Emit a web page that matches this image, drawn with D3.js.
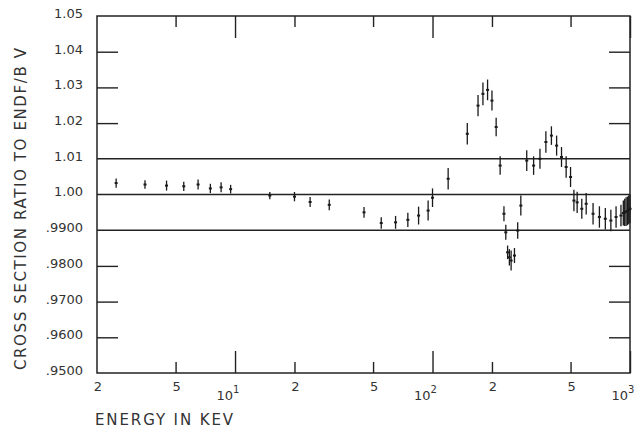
<html>
<head>
<script src="https://d3js.org/d3.v7.min.js"></script>
<style>
    body { margin: 0; background: #fff; }
    text { font-family: 'DejaVu Sans', sans-serif; fill: #333; }
    .frame { fill: none; stroke: #222; stroke-width: 1.5px; }
    .ref { stroke: #222; stroke-width: 1.6px; }
    .bar { stroke: #1a1a1a; stroke-width: 1.3px; }
    .dot { stroke: #1a1a1a; stroke-width: 2px; }
    .axis line { stroke: #222; stroke-width: 1.4px; }
    .axis path { display: none; }
</style>
</head>
<body>
<svg id="chart" width="642" height="432"></svg>
<script>
    // energy (keV), ratio to ENDF/B-V, half length of the error bar
    const energy = [2.5, 3.5, 4.5, 5.5, 6.5, 7.5, 8.5, 9.5, 15, 20, 24, 30, 45, 55, 65, 75, 85, 95, 100,
        120, 150, 170, 180, 190, 200, 210, 220, 230, 235, 240, 245, 250, 260, 270, 280,
        300, 325, 350, 375, 400, 425, 450, 475, 500, 520, 540, 570, 600, 650, 700, 750, 800, 850, 900,
        925, 940, 955, 970, 985, 1000];
    const ratio = [1.0032, 1.0028, 1.0025, 1.0023, 1.0028, 1.0017, 1.0020, 1.0015, 0.9997, 0.9994, 0.9979, 0.9971, 0.9950, 0.9920, 0.9922, 0.9929, 0.9941, 0.9955, 0.9991,
        1.0044, 1.0170, 1.0249, 1.0282, 1.0293, 1.0263, 1.0189, 1.0081, 0.9946, 0.9894, 0.9838, 0.9824, 0.9815, 0.9829, 0.9899, 0.9969,
        1.0095, 1.0081, 1.0100, 1.0147, 1.0165, 1.0137, 1.0105, 1.0077, 1.0049, 0.9983, 0.9978, 0.9960, 0.9974, 0.9946, 0.9937, 0.9932, 0.9927, 0.9937, 0.9941,
        0.9948, 0.9950, 0.9952, 0.9954, 0.9957, 0.9960];
    const err = [0.0013, 0.0012, 0.0014, 0.0013, 0.0014, 0.0013, 0.0014, 0.0012, 0.0010, 0.0013, 0.0014, 0.0015, 0.0015, 0.0016, 0.0018, 0.0020, 0.0025, 0.0028, 0.0026,
        0.0030, 0.0030, 0.0030, 0.0032, 0.0029, 0.0028, 0.0026, 0.0026, 0.0021, 0.0021, 0.0019, 0.0023, 0.0028, 0.0021, 0.0023, 0.0028,
        0.0029, 0.0026, 0.0028, 0.0030, 0.0026, 0.0028, 0.0028, 0.0030, 0.0028, 0.0030, 0.0030, 0.0028, 0.0030, 0.0030, 0.0030, 0.0030, 0.0030, 0.0030, 0.0030,
        0.0035, 0.0038, 0.0040, 0.0040, 0.0040, 0.0040];

    const yTicks = [1.05, 1.04, 1.03, 1.02, 1.01, 1.00, 0.99, 0.98, 0.97, 0.96, 0.95];
    const yLabels = ['1.05', '1.04', '1.03', '1.02', '1.01', '1.00', '.9900', '.9800', '.9700', '.9600', '.9500'];
    const refLines = [1.01, 1.00, 0.99];
    const xMinor = [5, 20, 50, 200, 500];
    const xMajor = [10, 100, 1000];
    const xMinorLabels = [[2, '2'], [5, '5'], [20, '2'], [50, '5'], [200, '2'], [500, '5']];
    const xMajorLabels = [[10, '1'], [100, '2'], [1000, '3']];

    const svg = d3.select('#chart');
    const x = d3.scaleLog().domain([2, 1000]).range([97, 630]);
    const y = d3.scaleLinear().domain([0.95, 1.05]).range([373, 16]);

    // y ticks (inward, both sides), skipping the ones that are full reference lines
    const innerY = yTicks.filter(v => refLines.indexOf(v) < 0 && v !== 1.05 && v !== 0.95);
    svg.append('g').attr('class', 'axis')
        .attr('transform', 'translate(97,0)')
        .call(d3.axisLeft(y).tickValues(innerY).tickSize(-21).tickFormat(''));
    svg.append('g').attr('class', 'axis')
        .attr('transform', 'translate(630,0)')
        .call(d3.axisRight(y).tickValues(innerY).tickSize(-21).tickFormat(''));

    // y labels
    svg.append('g').selectAll('text')
        .data(yTicks)
        .join('text')
        .attr('x', 83)
        .attr('y', d => y(d))
        .attr('dy', '0.15em')
        .attr('text-anchor', 'end')
        .attr('font-size', 13)
        .text((d, i) => yLabels[i]);

    // x ticks, bottom and top
    [[373, d3.axisBottom], [16, d3.axisTop]].forEach(([yy, ax]) => {
        svg.append('g').attr('class', 'axis')
            .attr('transform', `translate(0,${yy})`)
            .call(ax(x).tickValues(xMinor).tickSize(-11).tickFormat(''));
        svg.append('g').attr('class', 'axis')
            .attr('transform', `translate(0,${yy})`)
            .call(ax(x).tickValues(xMajor).tickSize(-22).tickFormat(''));
    });

    // x labels
    svg.append('g').selectAll('text')
        .data(xMinorLabels)
        .join('text')
        .attr('x', d => x(d[0]) + 1)
        .attr('y', 391)
        .attr('text-anchor', 'middle')
        .attr('font-size', 13)
        .text(d => d[1]);

    const maj = svg.append('g').selectAll('g')
        .data(xMajorLabels)
        .join('g')
        .attr('transform', d => `translate(${x(d[0])},0)`);
    maj.append('text')
        .attr('x', -2)
        .attr('y', 400)
        .attr('text-anchor', 'end')
        .attr('font-size', 13)
        .text('10');
    maj.append('text')
        .attr('x', -2)
        .attr('y', 393)
        .attr('font-size', 10)
        .text(d => d[1]);

    // reference lines
    svg.append('g').selectAll('line')
        .data(refLines)
        .join('line')
        .attr('class', 'ref')
        .attr('x1', 97).attr('x2', 630)
        .attr('y1', d => y(d)).attr('y2', d => y(d));

    // frame
    svg.append('rect').attr('class', 'frame')
        .attr('x', 97).attr('y', 16)
        .attr('width', 630 - 97).attr('height', 373 - 16);

    // data: error bars with a small centre mark
    const pts = energy.map((e, i) => ({ e: e, r: ratio[i], s: err[i] }));
    const g = svg.append('g');
    g.selectAll('line.bar')
        .data(pts)
        .join('line')
        .attr('class', 'bar')
        .attr('x1', d => x(d.e)).attr('x2', d => x(d.e))
        .attr('y1', d => y(d.r + d.s)).attr('y2', d => y(d.r - d.s));
    g.selectAll('line.dot')
        .data(pts)
        .join('line')
        .attr('class', 'dot')
        .attr('x1', d => x(d.e) - 1.5).attr('x2', d => x(d.e) + 1.5)
        .attr('y1', d => y(d.r)).attr('y2', d => y(d.r));

    // axis titles
    svg.append('text')
        .attr('x', 95).attr('y', 425)
        .attr('font-size', 15)
        .attr('textLength', 138)
        .attr('lengthAdjust', 'spacing')
        .text('ENERGY IN KEV');

    svg.append('text')
        .attr('transform', 'translate(26,370) rotate(-90)')
        .attr('font-size', 15)
        .attr('textLength', 322)
        .attr('lengthAdjust', 'spacing')
        .text('CROSS SECTION RATIO TO ENDF/B V');
</script>
</body>
</html>
